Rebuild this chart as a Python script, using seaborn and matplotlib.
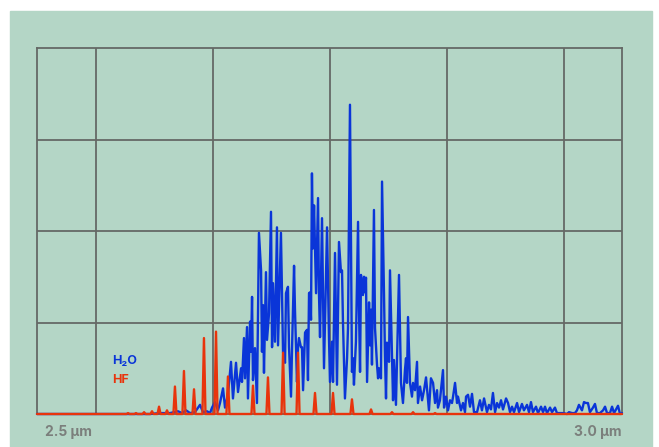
import numpy as np
import pandas as pd
import matplotlib
matplotlib.use("Agg")
import matplotlib.pyplot as plt
import seaborn as sns

# H2O spectrum (wavelength in nm, relative intensity)
h2o_nm = [
    2500.0, 2596.6, 2605.1, 2613.7, 2620.5, 2623.9, 2627.4, 2630.8, 2635.0, 2639.3,
    2641.9, 2645.3, 2647.9, 2649.6, 2652.1, 2654.7, 2656.4, 2659.0, 2660.7, 2663.2,
    2665.8, 2667.5, 2670.1, 2671.8, 2674.4, 2675.2, 2676.9, 2677.8, 2679.5, 2680.3,
    2682.1, 2682.9, 2683.8, 2684.6, 2686.3, 2688.0, 2689.7, 2691.5, 2692.3, 2693.2,
    2694.0, 2695.7, 2696.6, 2698.3, 2700.0, 2700.9, 2701.7, 2703.4, 2705.1, 2706.0,
    2708.5, 2710.3, 2712.0, 2712.8, 2714.5, 2715.4, 2717.1, 2717.9, 2719.7, 2720.5,
    2722.2, 2723.1, 2723.9, 2725.6, 2726.5, 2727.4, 2729.1, 2730.8, 2731.6, 2732.5,
    2733.3, 2734.2, 2735.0, 2735.9, 2736.8, 2738.5, 2740.2, 2741.0, 2741.9, 2743.6,
    2745.3, 2747.9, 2749.6, 2750.4, 2752.1, 2753.0, 2754.7, 2756.4, 2758.1, 2759.8,
    2760.7, 2761.5, 2763.2, 2765.0, 2765.8, 2767.5, 2769.2, 2770.1, 2770.9, 2772.6,
    2774.4, 2775.2, 2776.1, 2776.9, 2778.6, 2779.5, 2780.3, 2781.2, 2782.1, 2783.8,
    2784.6, 2785.5, 2786.3, 2788.0, 2788.9, 2790.6, 2791.5, 2792.3, 2794.0, 2794.9,
    2796.6, 2797.4, 2798.3, 2799.1, 2800.9, 2801.7, 2804.3, 2805.1, 2806.8, 2809.4,
    2811.1, 2812.8, 2814.5, 2815.4, 2816.2, 2817.1, 2818.8, 2820.5, 2821.4, 2823.1,
    2824.8, 2825.6, 2827.4, 2829.1, 2830.8, 2832.5, 2834.2, 2835.0, 2836.7, 2838.5,
    2840.2, 2841.9, 2842.7, 2844.4, 2847.0, 2847.9, 2849.6, 2851.3, 2853.0, 2854.7,
    2855.6, 2857.3, 2859.0, 2859.8, 2862.4, 2864.1, 2865.8, 2866.7, 2868.4, 2870.1,
    2871.8, 2873.5, 2876.1, 2878.6, 2880.3, 2882.1, 2884.6, 2886.3, 2888.0, 2889.7,
    2891.5, 2893.2, 2894.9, 2896.6, 2898.3, 2900.9, 2902.6, 2904.3, 2906.0, 2907.7,
    2910.3, 2912.0, 2914.5, 2916.2, 2918.8, 2920.5, 2922.2, 2923.9, 2926.5, 2928.2,
    2930.8, 2932.5, 2934.2, 2935.9, 2938.5, 2940.2, 2942.7, 2944.4, 2946.2, 2949.6,
    2953.0, 2954.7, 2957.3, 2959.8, 2961.5, 2963.2, 2965.8, 2967.5, 2969.2, 2970.9,
    2972.6, 2975.2, 2976.9, 2978.6, 2981.2, 2983.8, 2985.5, 2987.2, 2989.7, 2991.5,
    2993.2, 2996.6, 2998.3, 3000.0,
]
h2o_int = [
    0.00, 0.00, 0.01, 0.01, 0.03, 0.01, 0.04, 0.01, 0.02, 0.10,
    0.02, 0.03, 0.01, 0.07, 0.13, 0.04, 0.12, 0.28, 0.07, 0.21,
    0.57, 0.17, 0.56, 0.24, 0.50, 0.35, 0.83, 0.39, 0.95, 0.17,
    1.01, 0.68, 1.28, 0.37, 0.72, 0.12, 1.98, 1.57, 0.68, 1.19,
    0.45, 1.55, 0.81, 1.10, 2.21, 0.73, 1.43, 0.79, 2.04, 0.75,
    1.98, 0.67, 0.56, 1.32, 1.39, 0.73, 0.19, 0.67, 1.62, 1.14,
    0.35, 0.73, 0.83, 0.73, 0.73, 0.26, 0.89, 0.92, 0.37, 1.32,
    1.33, 1.03, 2.63, 1.81, 2.28, 1.32, 2.36, 1.32, 0.84, 2.14,
    0.50, 2.04, 0.81, 0.35, 0.79, 0.35, 1.76, 0.32, 1.88, 1.55,
    1.57, 1.01, 0.17, 0.61, 0.94, 3.38, 0.46, 0.61, 0.32, 0.79,
    2.10, 1.16, 0.46, 1.52, 1.30, 1.50, 1.33, 1.49, 0.35, 1.22,
    0.75, 1.14, 0.54, 2.23, 0.94, 0.54, 0.39, 0.50, 0.39, 2.54,
    1.30, 0.64, 0.17, 0.78, 0.57, 1.57, 0.15, 0.59, 0.10, 1.52,
    0.34, 0.12, 0.48, 0.61, 0.34, 1.06, 0.34, 0.19, 0.34, 0.26,
    0.57, 0.12, 0.30, 0.15, 0.26, 0.40, 0.15, 0.04, 0.39, 0.34,
    0.12, 0.26, 0.07, 0.15, 0.48, 0.07, 0.19, 0.04, 0.15, 0.12,
    0.19, 0.34, 0.12, 0.19, 0.04, 0.12, 0.02, 0.19, 0.21, 0.08,
    0.22, 0.02, 0.02, 0.15, 0.04, 0.17, 0.02, 0.10, 0.05, 0.23,
    0.02, 0.12, 0.07, 0.15, 0.05, 0.17, 0.12, 0.02, 0.08, 0.02,
    0.12, 0.02, 0.11, 0.04, 0.10, 0.02, 0.13, 0.02, 0.08, 0.01,
    0.08, 0.02, 0.08, 0.01, 0.07, 0.02, 0.07, 0.01, 0.01, 0.01,
    0.00, 0.02, 0.01, 0.01, 0.04, 0.10, 0.04, 0.13, 0.12, 0.12,
    0.02, 0.07, 0.11, 0.01, 0.01, 0.04, 0.08, 0.01, 0.01, 0.08,
    0.01, 0.09, 0.00, 0.01,
]

# HF line positions (nm) and peak intensities
hf_nm = [
    2577.8, 2584.6, 2591.5, 2598.3, 2604.3, 2611.1, 2617.9, 2625.6, 2634.2, 2642.7,
    2653.0, 2663.2, 2684.6, 2697.4, 2710.3, 2723.1, 2737.6, 2753.0, 2769.2, 2785.5,
    2803.4, 2821.4, 2840.2,
]
hf_int = [
    0.01, 0.01, 0.02, 0.03, 0.08, 0.04, 0.30, 0.47, 0.27, 0.83,
    0.90, 0.41, 0.31, 0.40, 0.67, 0.67, 0.23, 0.23, 0.16, 0.05,
    0.02, 0.02, 0.01,
]

grid_nm = [2550, 2650, 2750, 2850, 2950]

# narrow stick lines for HF, zero between lines
hf_x = [2500.0]
hf_y = [0.0]
for pos, h in zip(hf_nm, hf_int):
    hf_x += [pos - 1.3, pos, pos + 1.3]
    hf_y += [0.0, h, 0.0]
hf_x.append(3000.0)
hf_y.append(0.0)

df_h2o = pd.DataFrame({"nm": h2o_nm, "val": h2o_int})
df_hf = pd.DataFrame({"nm": hf_x, "val": hf_y})

bg = "#b4d6c6"
grid_col = "#656966"
blue = "#0a35d8"
red = "#e8340c"

sns.set_style("white")
fig = plt.figure(figsize=(6.59, 4.47), dpi=100, facecolor="white")
fig.patches.append(plt.Rectangle((10 / 659, 0), 642 / 659, 436 / 447,
                                 transform=fig.transFigure, color=bg, zorder=-10))

ax = fig.add_axes([37 / 659, 33 / 447, 585 / 659, 366 / 447])
ax.set_facecolor(bg)

sns.lineplot(data=df_h2o, x="nm", y="val", color=blue, lw=1.7, ax=ax,
             estimator=None, sort=False, zorder=3)
sns.lineplot(data=df_hf, x="nm", y="val", color=red, lw=1.7, ax=ax,
             estimator=None, sort=False, zorder=4)
for ln in ax.lines:
    ln.set_clip_on(False)

ax.set_xlim(2500, 3000)
ax.set_ylim(0, 4)
ax.set_xticks(grid_nm)
ax.set_yticks([1, 2, 3])
ax.grid(True, color=grid_col, lw=1.3)
ax.tick_params(length=0, labelbottom=False, labelleft=False)
ax.set_xlabel("")
ax.set_ylabel("")
for s in ax.spines.values():
    s.set_color(grid_col)
    s.set_linewidth(1.3)

fam = ["Inter", "DejaVu Sans"]
ax.text(0.128, 0.145, "H₂O", transform=ax.transAxes, color=blue, fontsize=9,
        fontweight="bold", family=fam, va="center", ha="left")
ax.text(0.128, 0.093, "HF", transform=ax.transAxes, color=red, fontsize=9,
        fontweight="bold", family=fam, va="center", ha="left")

fig.text(45 / 659, 15 / 447, "2.5 µm", color="#7b7f7c", fontsize=10,
         fontweight="bold", family=fam, va="center", ha="left")
fig.text(621 / 659, 15 / 447, "3.0 µm", color="#7b7f7c", fontsize=10,
         fontweight="bold", family=fam, va="center", ha="right")

fig.savefig("out.png", dpi=100, facecolor="white")
